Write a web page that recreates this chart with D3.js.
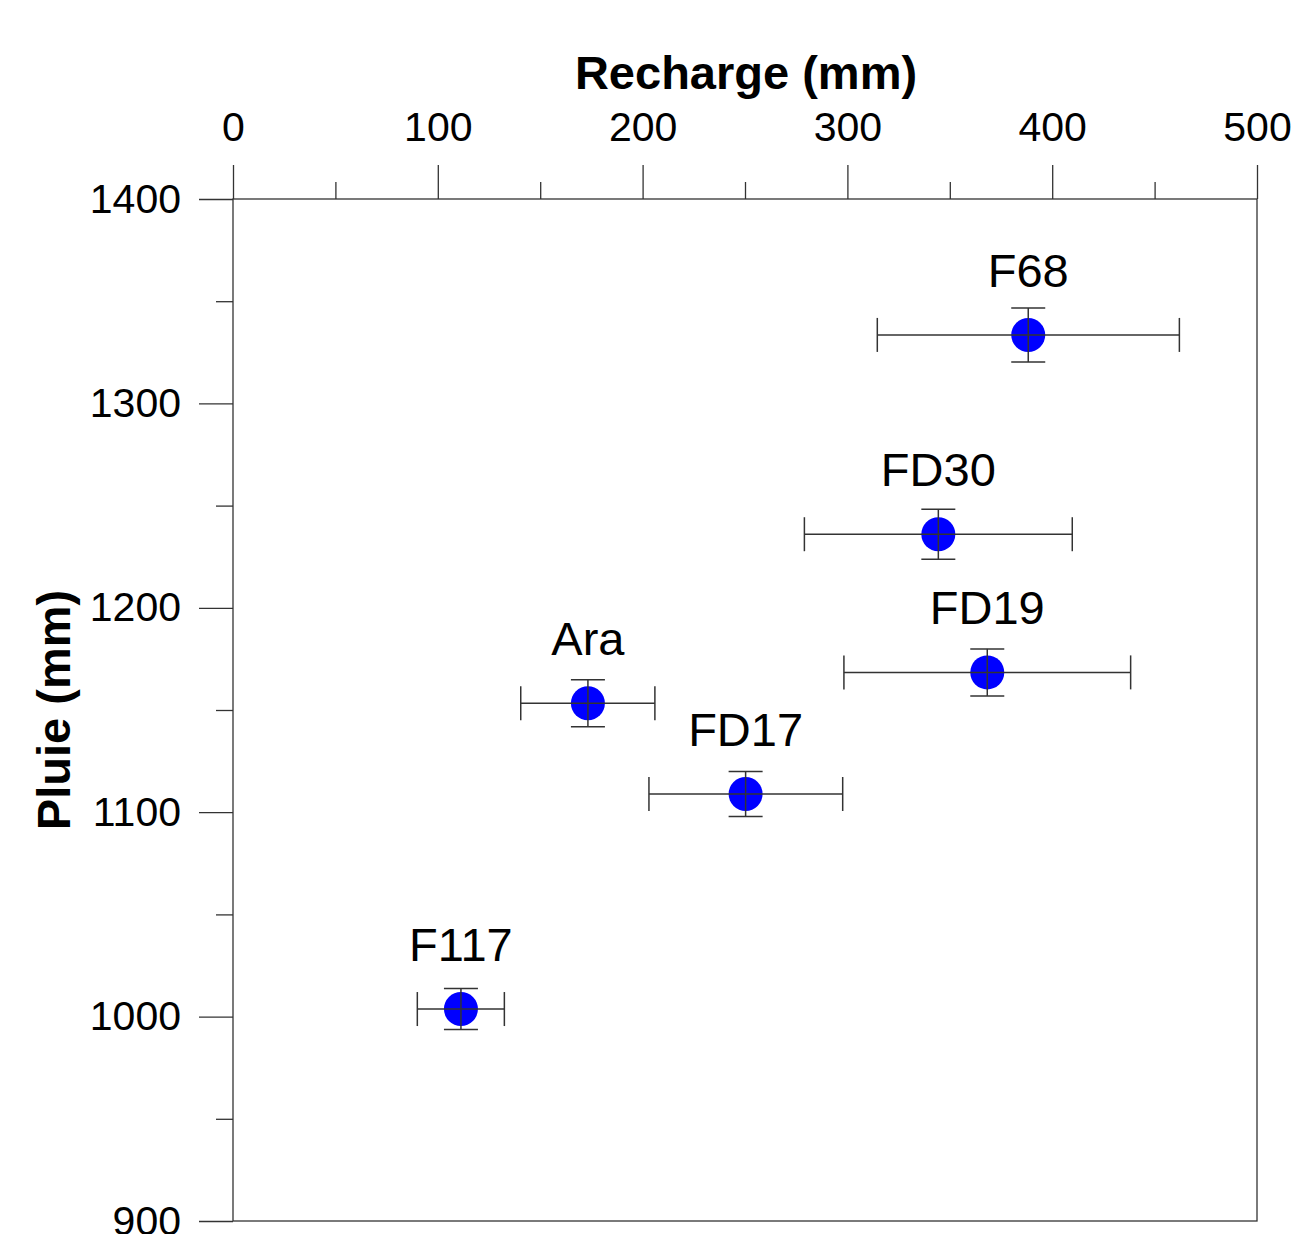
<!DOCTYPE html>
<html>
<head>
<meta charset="utf-8">
<script src="https://cdn.jsdelivr.net/npm/d3@7"></script>
<style>
  body { margin: 0; background: #fff; }
  svg { display: block; font-family: 'Liberation Sans', Arial, sans-serif; }
</style>
</head>
<body>
<svg width="1294" height="1234"></svg>
<script>
// data
const sites = ['F68', 'FD30', 'FD19', 'Ara', 'FD17', 'F117'];
const recharge = [388.3, 344.4, 368.3, 173.3, 250.3, 111.3];
const rechargeLo = [314.6, 279.0, 298.3, 140.5, 203.1, 90.0];
const rechargeHi = [462.1, 409.8, 438.3, 206.0, 297.7, 132.5];
const pluie = [1333.5, 1236.0, 1168.4, 1153.3, 1108.9, 1003.7];
const pluieErr = [13.2, 12.2, 11.5, 11.5, 11.0, 10.0];

const xMajor = [0, 100, 200, 300, 400, 500];
const xMinor = [50, 150, 250, 350, 450];
const yMajor = [900, 1000, 1100, 1200, 1300, 1400];
const yMinor = [950, 1050, 1150, 1250, 1350];

const svg = d3.select('svg');
const plotL = 233, plotR = 1257, plotT = 199, plotB = 1221;

const x = d3.scaleLinear().domain([0, 500]).range([plotL, plotR]);
const y = d3.scaleLinear().domain([900, 1400]).range([plotB, plotT]);

const points = sites.map((s, i) => ({
  name: s, x: recharge[i], xlo: rechargeLo[i], xhi: rechargeHi[i],
  y: pluie[i], ye: pluieErr[i]
}));

// top axis
svg.append('g').attr('transform', 'translate(0,' + plotT + ')')
  .call(d3.axisTop(x).tickValues(xMajor).tickSize(34).tickPadding(24).tickFormat(d3.format('d')));
svg.append('g').attr('transform', 'translate(0,' + plotT + ')')
  .call(d3.axisTop(x).tickValues(xMinor).tickSize(17).tickFormat(''));

// left axis
svg.append('g').attr('transform', 'translate(' + plotL + ',0)')
  .call(d3.axisLeft(y).tickValues(yMajor).tickSize(34).tickPadding(18).tickFormat(d3.format('d')));
svg.append('g').attr('transform', 'translate(' + plotL + ',0)')
  .call(d3.axisLeft(y).tickValues(yMinor).tickSize(17).tickFormat(''));

svg.selectAll('.domain').remove();
svg.selectAll('.tick line').attr('stroke', '#333').attr('stroke-width', 1.3);
svg.selectAll('.tick text').attr('font-size', 41).attr('fill', '#000')
  .attr('font-family', "'Liberation Sans', Arial, sans-serif");

// frame
svg.append('rect')
  .attr('x', plotL).attr('y', plotT)
  .attr('width', plotR - plotL).attr('height', plotB - plotT)
  .attr('fill', 'none').attr('stroke', '#333').attr('stroke-width', 1.3);

// axis titles
svg.append('text')
  .attr('x', 746).attr('y', 89)
  .attr('text-anchor', 'middle').attr('font-size', 47).attr('font-weight', 'bold')
  .text('Recharge (mm)');

svg.append('text')
  .attr('transform', 'translate(70,' + 710 + ') rotate(-90)')
  .attr('text-anchor', 'middle').attr('font-size', 47).attr('font-weight', 'bold')
  .text('Pluie (mm)');

// markers
const g = svg.append('g');
g.selectAll('circle').data(points).join('circle')
  .attr('cx', d => x(d.x)).attr('cy', d => y(d.y))
  .attr('r', 17).attr('fill', '#0000ff');

// error bars on top of markers
const eb = g.selectAll('g.eb').data(points).join('g').attr('class', 'eb')
  .attr('stroke', '#333').attr('stroke-width', 1.5);
eb.append('line')
  .attr('x1', d => x(d.xlo)).attr('x2', d => x(d.xhi))
  .attr('y1', d => y(d.y)).attr('y2', d => y(d.y));
eb.append('line')
  .attr('x1', d => x(d.xlo)).attr('x2', d => x(d.xlo))
  .attr('y1', d => y(d.y) - 17).attr('y2', d => y(d.y) + 17);
eb.append('line')
  .attr('x1', d => x(d.xhi)).attr('x2', d => x(d.xhi))
  .attr('y1', d => y(d.y) - 17).attr('y2', d => y(d.y) + 17);
eb.append('line')
  .attr('x1', d => x(d.x)).attr('x2', d => x(d.x))
  .attr('y1', d => y(d.y + d.ye)).attr('y2', d => y(d.y - d.ye));
eb.append('line')
  .attr('x1', d => x(d.x) - 17).attr('x2', d => x(d.x) + 17)
  .attr('y1', d => y(d.y + d.ye)).attr('y2', d => y(d.y + d.ye));
eb.append('line')
  .attr('x1', d => x(d.x) - 17).attr('x2', d => x(d.x) + 17)
  .attr('y1', d => y(d.y - d.ye)).attr('y2', d => y(d.y - d.ye));

// site labels
g.selectAll('text.lab').data(points).join('text').attr('class', 'lab')
  .attr('x', d => x(d.x)).attr('y', d => y(d.y) - 48)
  .attr('text-anchor', 'middle').attr('font-size', 47)
  .text(d => d.name);
</script>
</body>
</html>
